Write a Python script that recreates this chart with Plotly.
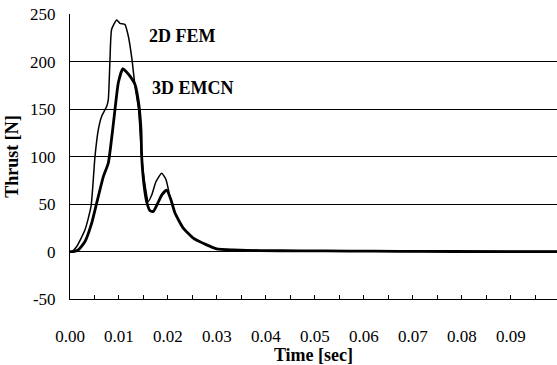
import plotly.graph_objects as go

# 2D FEM (thin line)
t_fem = [0.0, 0.00035, 0.00137, 0.00306, 0.00429, 0.0051, 0.00578, 0.00647, 0.0075, 0.00782,
         0.00816, 0.0085, 0.00953, 0.0102, 0.0112, 0.0119, 0.01265, 0.01327, 0.014, 0.01463,
         0.0153, 0.01598, 0.0167, 0.01755, 0.01871, 0.0196, 0.0204, 0.02143, 0.02312, 0.02516,
         0.0279, 0.02994, 0.0333, 0.0388, 0.047, 0.057, 0.067, 0.078, 0.0994]
y_fem = [0.0, 0.0, 5.3, 22.9, 47.6, 100.4, 128.6, 142.7, 153.3, 160.3,
         202.6, 234.4, 244.2, 240.7, 239.6, 227.3, 202.6, 174.4, 149.8, 100.4,
         70.5, 52.9, 60.0, 73.7, 82.7, 75.8, 57.8, 40.6, 24.7, 14.2,
         7.1, 2.9, 1.8, 1.0, 0.8, 0.5, 0.3, 0.1, 0.0]

# 3D EMCN (thick line)
t_emcn = [0.0, 0.00067, 0.00169, 0.00306, 0.00443, 0.00545, 0.00682, 0.00782, 0.00871, 0.00918,
          0.00986, 0.01076, 0.01143, 0.01224, 0.01327, 0.014, 0.01449, 0.01463, 0.0151, 0.0157,
          0.01633, 0.017, 0.01776, 0.01878, 0.01973, 0.0206, 0.02143, 0.02312, 0.02516, 0.0279,
          0.02994, 0.0333, 0.0388, 0.047, 0.057, 0.067, 0.078, 0.0994]
y_emcn = [0.0, 0.0, 1.8, 10.6, 30.0, 51.2, 79.3, 93.4, 128.6, 149.8,
          178.0, 192.8, 190.0, 185.0, 176.2, 156.9, 128.6, 100.4, 70.5, 51.5,
          43.0, 42.3, 49.4, 60.0, 64.7, 54.7, 40.6, 24.7, 14.2, 7.1,
          2.9, 1.8, 1.0, 0.8, 0.5, 0.3, 0.1, 0.0]

x_ticks = [0.0, 0.01, 0.02, 0.03, 0.04, 0.05, 0.06, 0.07, 0.08, 0.09]
x_tick_labels = ["0.00", "0.01", "0.02", "0.03", "0.04", "0.05", "0.06", "0.07", "0.08", "0.09"]
y_ticks = [-50, 0, 50, 100, 150, 200, 250]
y_tick_labels = ["-50", "0", "50", "100", "150", "200", "250"]

FONT = "Liberation Serif"

fig = go.Figure()
fig.add_trace(go.Scatter(x=t_fem, y=y_fem, mode="lines", line=dict(color="black", width=1.5, shape="spline", smoothing=0.5), name="2D FEM"))
fig.add_trace(go.Scatter(x=t_emcn, y=y_emcn, mode="lines", line=dict(color="black", width=2.8, shape="spline", smoothing=0.5), name="3D EMCN"))

fig.add_annotation(x=0.02296, y=227, text="<b>2D FEM</b>", showarrow=False, font=dict(family=FONT, size=18, color="black"))
fig.add_annotation(x=0.0252, y=172, text="<b>3D EMCN</b>", showarrow=False, font=dict(family=FONT, size=18, color="black"))

fig.update_layout(
    width=557, height=365,
    margin=dict(l=70, r=0, t=14, b=66),
    paper_bgcolor="white", plot_bgcolor="white",
    showlegend=False,
    font=dict(family=FONT, color="black"),
)
fig.update_xaxes(
    range=[0, 0.0994],
    tickvals=x_ticks, ticktext=x_tick_labels,
    ticks="inside", ticklen=4, tickcolor="black", tickwidth=1,
    minor=dict(dtick=0.005, tick0=0, ticks="inside", ticklen=4, tickcolor="black", showgrid=False),
    showgrid=False, zeroline=False,
    showline=True, linecolor="black", linewidth=1,
    tickfont=dict(family=FONT, size=17, color="black"),
    ticklabelstandoff=22,
    title=dict(text="<b>Time [sec]</b>", font=dict(family=FONT, size=18, color="black"), standoff=2),
)
fig.update_yaxes(
    range=[-50, 250.5],
    tickvals=y_ticks, ticktext=y_tick_labels,
    ticks="", showgrid=True, gridcolor="black", gridwidth=1,
    zeroline=False,
    showline=True, linecolor="black", linewidth=1,
    tickfont=dict(family=FONT, size=17, color="black"),
    ticklabelstandoff=10,
    title=dict(text="<b>Thrust [N]</b>", font=dict(family=FONT, size=18, color="black"), standoff=6),
)

fig.write_html("out.html")
